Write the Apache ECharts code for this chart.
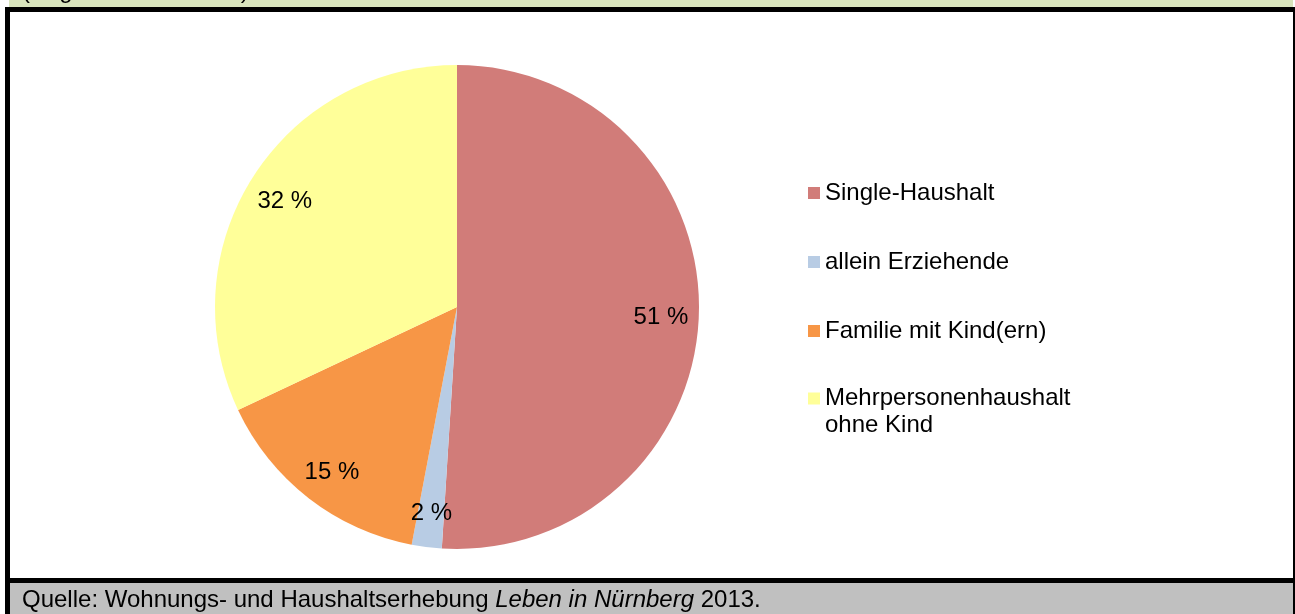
<!DOCTYPE html>
<html>
<head>
<meta charset="utf-8" />
<title>Haushaltstypen Nürnberg 2013</title>
<style>
  html, body { margin: 0; padding: 0; background: #fff; }
  #chart { width: 1295px; height: 614px; }
</style>
</head>
<body>
<div id="chart"></div>
<script src="https://cdn.jsdelivr.net/npm/echarts@6/dist/echarts.min.js"></script>
<script>
// Haushaltstypen (Anteile in Prozent)
var categories = ['Single-Haushalt', 'allein Erziehende', 'Familie mit Kind(ern)', 'Mehrpersonenhaushalt ohne Kind'];
var values = [51, 2, 15, 32];
var colors = ['#D17C79', '#B8CCE4', '#F79646', '#FFFF99'];

var titleText = '(Angaben in Prozent)';
var sourceText = 'Quelle: Wohnungs- und Haushaltserhebung ';
var sourceItalic = 'Leben in Nürnberg';
var sourceYear = ' 2013.';

var font = 'Arial, "Liberation Sans", sans-serif';

var pieData = categories.map(function (c, i) {
  return { name: c, value: values[i], itemStyle: { color: colors[i] } };
});

var chart = echarts.init(document.getElementById('chart'), null, { renderer: 'canvas' });

var option = {
  animation: false,
  backgroundColor: '#fff',
  legend: [{
    orient: 'vertical',
    left: 808,
    top: 181,
    padding: 0,
    itemWidth: 12,
    itemHeight: 12,
    itemGap: 45,
    selectedMode: false,
    icon: 'rect',
    data: categories.slice(0, 3),
    textStyle: { fontFamily: font, fontSize: 24, lineHeight: 24, color: '#000' }
  }, {
    orient: 'vertical',
    left: 808,
    top: 358,
    padding: 0,
    itemWidth: 12,
    itemHeight: 12,
    selectedMode: false,
    icon: 'rect',
    data: categories.slice(3),
    // empty first line keeps the icon next to the first text line
    formatter: function (name) { return ' \n' + name.replace(' ohne', '\nohne'); },
    textStyle: { fontFamily: font, fontSize: 24, lineHeight: 27, color: '#000' }
  }],
  series: [{
    type: 'pie',
    center: [457, 307],
    radius: [0, 242],
    startAngle: 90,
    clockwise: true,
    silent: true,
    label: { show: false },
    labelLine: { show: false },
    itemStyle: { borderWidth: 0 },
    data: pieData
  }, {
    // transparent ring used only to place the value labels
    type: 'pie',
    center: [457, 307],
    radius: [160, 242],
    startAngle: 90,
    clockwise: true,
    silent: true,
    itemStyle: { color: 'rgba(0,0,0,0)', borderWidth: 0 },
    label: {
      show: true,
      position: 'inside',
      formatter: '{c} %',
      fontFamily: font,
      fontSize: 24,
      color: '#000',
      offset: [0, 4]
    },
    labelLine: { show: false },
    data: categories.map(function (c, i) { return { name: c, value: values[i] }; })
  }],
  graphic: [
    { type: 'rect', z: 100, shape: { x: 9, y: 0, width: 1284, height: 7 }, style: { fill: '#D8E4BC' } },
    {
      type: 'text', z: 101, x: 22, y: 3,
      style: { text: titleText, font: '24px ' + font, fill: '#000', verticalAlign: 'bottom' }
    },
    { type: 'rect', z: 102, shape: { x: 5, y: 7, width: 1290, height: 5 }, style: { fill: '#000' } },
    { type: 'rect', z: 102, shape: { x: 5, y: 7, width: 5, height: 607 }, style: { fill: '#000' } },
    { type: 'rect', z: 102, shape: { x: 1293, y: 7, width: 2, height: 607 }, style: { fill: '#000' } },
    { type: 'rect', z: 102, shape: { x: 5, y: 578, width: 1290, height: 5 }, style: { fill: '#000' } },
    { type: 'rect', z: 100, shape: { x: 10, y: 583, width: 1283, height: 31 }, style: { fill: '#C0C0C0' } },
    {
      type: 'text', z: 101, x: 22, y: 600,
      style: {
        text: '{n|' + sourceText + '}{i|' + sourceItalic + '}{n|' + sourceYear + '}',
        verticalAlign: 'middle',
        rich: {
          n: { fontFamily: font, fontSize: 24, color: '#000' },
          i: { fontFamily: font, fontSize: 24, fontStyle: 'italic', color: '#000' }
        }
      }
    }
  ]
};

chart.setOption(option);
</script>
</body>
</html>
